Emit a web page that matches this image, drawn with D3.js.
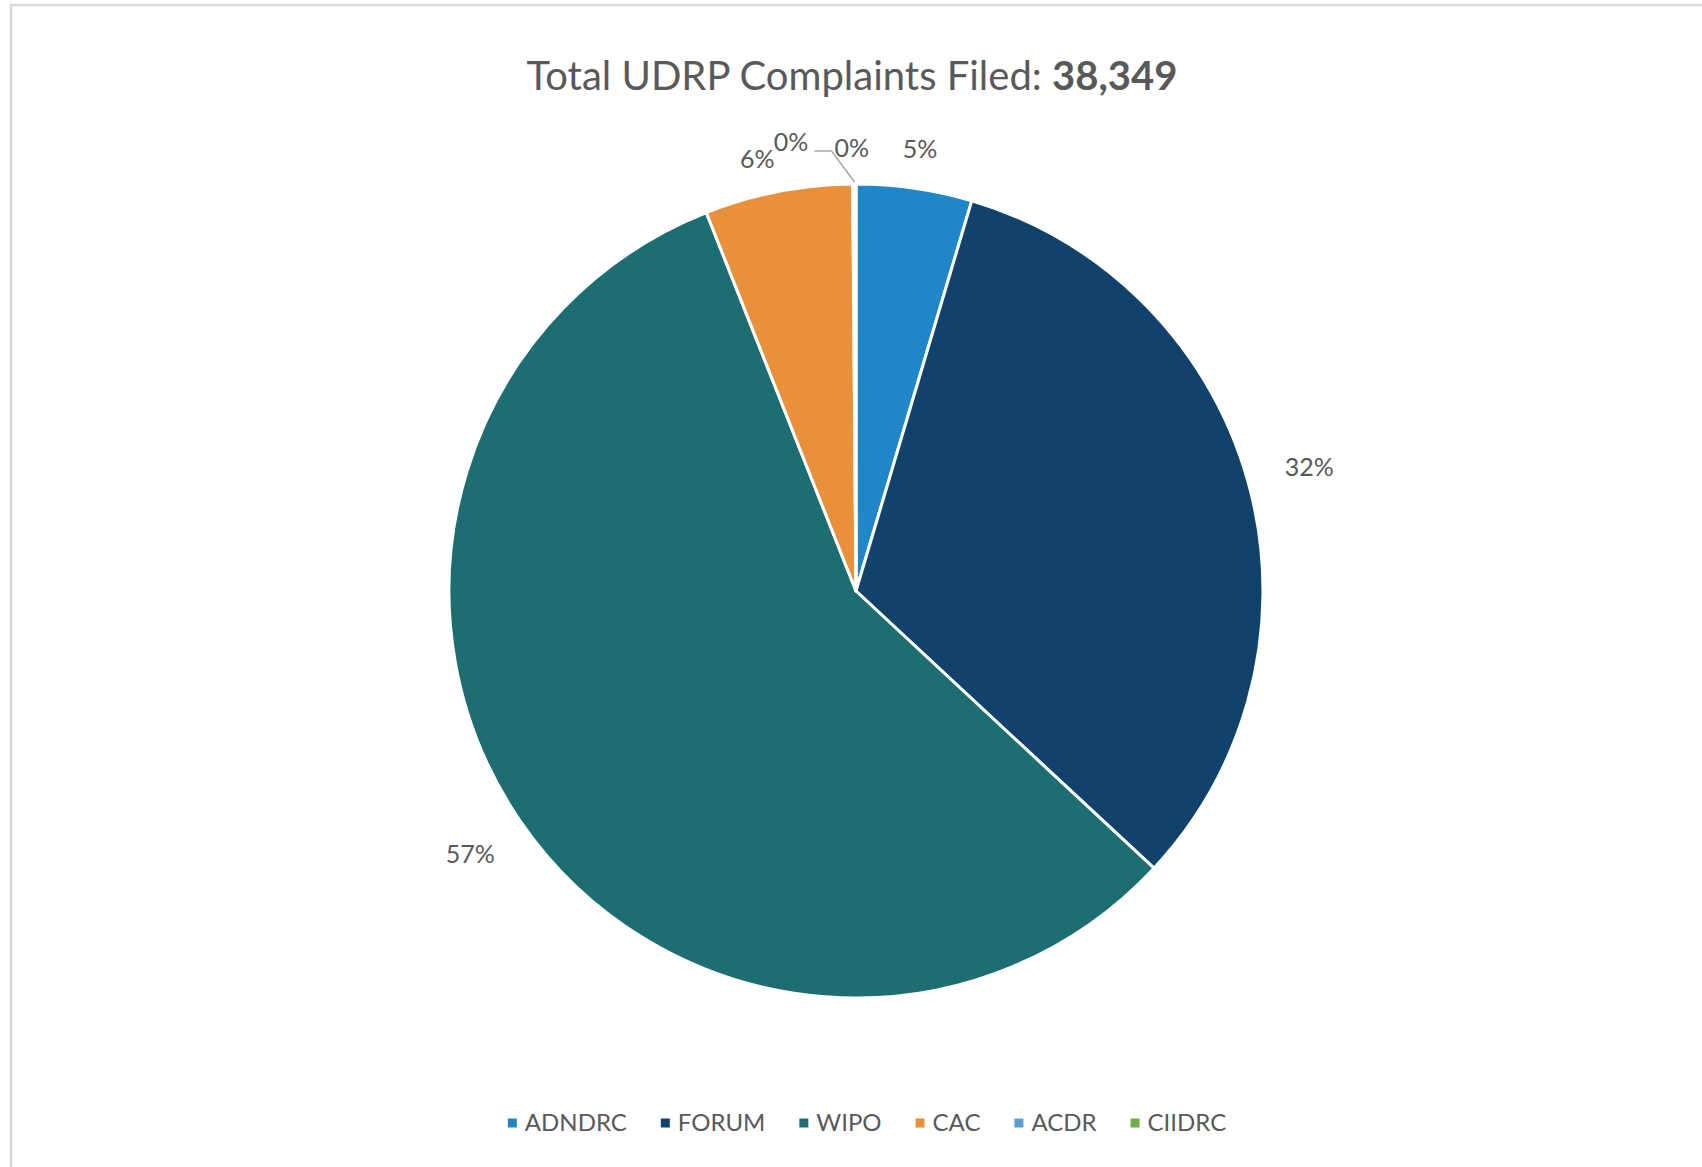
<!DOCTYPE html>
<html>
<head>
<meta charset="utf-8">
<script src="https://cdn.jsdelivr.net/npm/d3@7"></script>
<style>
  html, body { margin: 0; padding: 0; background: #fff; }
  svg { display: block; }
  text { font-family: Lato, "Open Sans", sans-serif; fill: #595959; }
</style>
</head>
<body>
<div id="chart"></div>
<script>
const providers = ["ADNDRC", "FORUM", "WIPO", "CAC", "ACDR", "CIIDRC"];
const complaints = [1760, 12400, 21890, 2250, 35, 14];
const colors = ["#1f87c8", "#10426b", "#1d6e72", "#e8913a", "#5b9bd5", "#70ad47"];
const titleText = "Total UDRP Complaints Filed: ";
const titleTotal = "38,349";

const width = 1702;
const height = 1167;
const cx = 856, cy = 591, radius = 407;

const svg = d3.select("#chart").append("svg").attr("width", width).attr("height", height);

// chart frame (runs off the right / bottom edge)
svg.append("rect")
  .attr("x", 11).attr("y", 5)
  .attr("width", width + 20).attr("height", height + 20)
  .attr("fill", "#fff")
  .attr("stroke", "#d9d9d9")
  .attr("stroke-width", 2.5);

const title = svg.append("text")
  .attr("x", 852).attr("y", 90)
  .attr("text-anchor", "middle")
  .style("font-size", "40px");
title.append("tspan").text(titleText);
title.append("tspan").attr("font-weight", "bold").text(titleTotal);

const data = providers.map((p, i) => ({ name: p, value: complaints[i], color: colors[i] }));
const total = d3.sum(complaints);

const pie = d3.pie().sort(null).value((d) => d.value);
const arcs = pie(data);
const arc = d3.arc().innerRadius(0).outerRadius(radius);

const g = svg.append("g").attr("transform", `translate(${cx},${cy})`);

g.selectAll("path")
  .data(arcs)
  .join("path")
  .attr("d", arc)
  .attr("fill", (d) => d.data.color)
  .attr("stroke", "#fff")
  .attr("stroke-width", 3)
  .attr("stroke-linejoin", "round");

const pct = (d) => Math.round((d.data.value / total) * 100) + "%";
const fontPx = 25;

const big = arcs.filter((d) => d.data.value / total >= 0.01);
const tiny = arcs.filter((d) => d.data.value / total < 0.01);

// tiny slices crowd at the top: first label pushed left, second one gets a leader line
const tinyBoxes = [];
tiny.forEach((d, i) => {
  const a = (d.startAngle + d.endAngle) / 2;
  const ex = radius * Math.sin(a), ey = -radius * Math.cos(a);
  let t;
  if (i === 0) {
    t = g.append("text")
      .attr("x", ex - 63).attr("y", ey - 42)
      .attr("dy", "0.35em")
      .attr("text-anchor", "middle")
      .style("font-size", fontPx + "px")
      .text(pct(d));
  } else {
    const kx = ex - 24, ky = ey - 33;
    g.append("polyline")
      .attr("points", [[ex - 1, ey - 2], [kx, ky], [kx - 17, ky]].map((p) => p.join(",")).join(" "))
      .attr("fill", "none")
      .attr("stroke", "#a6a6a6")
      .attr("stroke-width", 1.5);
    t = g.append("text")
      .attr("x", kx + 3).attr("y", ky - 3)
      .attr("dy", "0.35em")
      .attr("text-anchor", "start")
      .style("font-size", fontPx + "px")
      .text(pct(d));
  }
  tinyBoxes.push(t.node().getBBox());
});

// regular outside-end labels
big.forEach((d) => {
  const a = (d.startAngle + d.endAngle) / 2;
  const s = Math.sin(a), c = Math.cos(a);
  const halfW = 20, halfH = 8;
  const r = radius + 26 + 1.8 * halfW * Math.abs(s) + halfH * Math.abs(c);
  const t = g.append("text")
    .attr("x", r * s)
    .attr("y", -r * c)
    .attr("dy", "0.35em")
    .attr("text-anchor", "middle")
    .style("font-size", fontPx + "px")
    .text(pct(d));
  // nudge sideways away from crowded tiny labels
  let b = t.node().getBBox();
  tinyBoxes.forEach((tb) => {
    const overlap = b.x < tb.x + tb.width && b.x + b.width > tb.x &&
      b.y < tb.y + tb.height && b.y + b.height > tb.y;
    if (overlap) {
      const shift = s < 0 ? tb.x - (b.x + b.width) + 1 : tb.x + tb.width - b.x - 1;
      t.attr("x", +t.attr("x") + shift).attr("y", +t.attr("y") + 8);
      b = t.node().getBBox();
    }
  });
});

// legend
const legend = svg.append("g").attr("transform", "translate(0,1123)");
const items = legend.selectAll("g").data(data).join("g");
items.append("rect")
  .attr("y", -4.5).attr("width", 9).attr("height", 9)
  .attr("fill", (d) => d.color);
items.append("text")
  .attr("x", 17).attr("dy", "0.35em")
  .style("font-size", "24px")
  .text((d) => d.name);

let widths = [];
items.each(function () { widths.push(this.getBBox().width); });
const gap = 34;
const totalW = d3.sum(widths) + gap * (widths.length - 1);
let x0 = 867 - totalW / 2;
items.attr("transform", (d, i) => {
  const t = `translate(${x0},0)`;
  x0 += widths[i] + gap;
  return t;
});
</script>
</body>
</html>
